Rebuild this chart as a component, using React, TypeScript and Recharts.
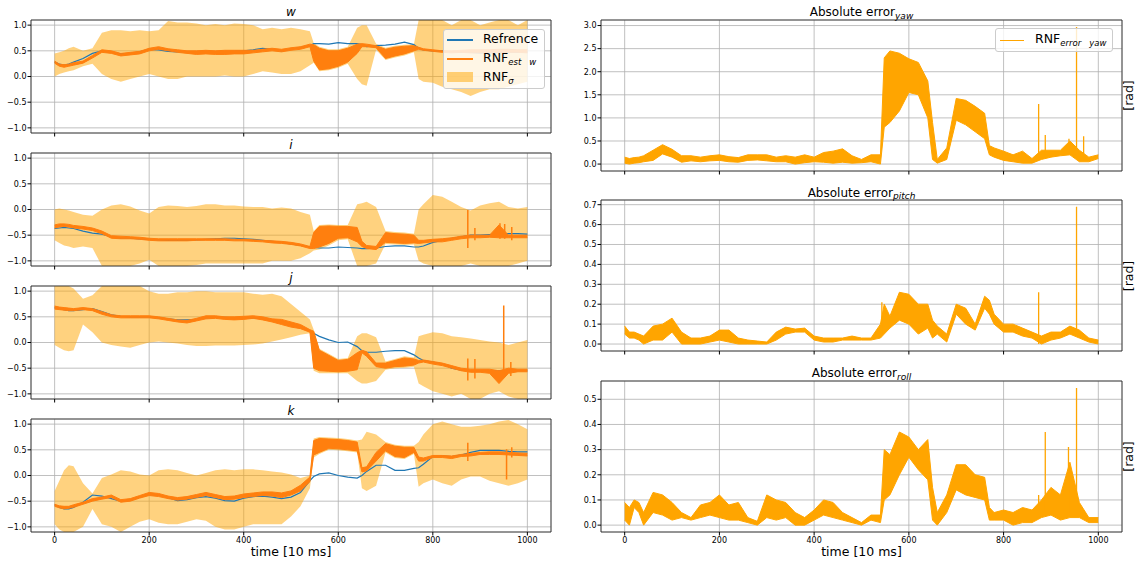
import React from 'react';
import { ComposedChart, Area, Line, XAxis, YAxis, CartesianGrid, ReferenceArea } from 'recharts';

const FONT = '"DejaVu Sans", sans-serif';

// time axis [10 ms]
const T = [
  0, 10, 20, 30, 40,
  60, 80, 100, 120, 140, 160, 180, 200, 220,
  240, 260, 280, 300, 320, 340, 360, 380, 400, 420, 440, 460, 480, 500, 520, 540,
  548, 560, 580, 600, 620, 640, 650, 660, 680, 700, 720, 740, 760, 770, 780,
  800, 820, 840, 860, 880, 900, 920, 940, 960, 980, 1000,
];

// ---- quaternion w ----
const wRef = [
  0.28, 0.24, 0.22, 0.24, 0.28,
  0.35, 0.45, 0.5, 0.47, 0.44, 0.45, 0.48, 0.53, 0.52,
  0.49, 0.48, 0.48, 0.47, 0.47, 0.48, 0.48, 0.49, 0.5, 0.52, 0.55, 0.53, 0.5, 0.53, 0.57, 0.6,
  0.64, 0.64, 0.63, 0.66, 0.64, 0.64, 0.62, 0.58, 0.6, 0.61, 0.63, 0.67, 0.62, 0.55, 0.52,
  0.5, 0.5, 0.48, 0.47, 0.47, 0.46, 0.46, 0.47, 0.47, 0.47, 0.48,
];
const wEstLo = [
  0.26, 0.2, 0.18, 0.2, 0.22,
  0.26, 0.36, 0.47, 0.45, 0.4, 0.42, 0.44, 0.5, 0.53,
  0.5, 0.47, 0.45, 0.43, 0.44, 0.43, 0.43, 0.44, 0.44, 0.46, 0.48, 0.5, 0.48, 0.51, 0.53, 0.58,
  0.3, 0.13, 0.15, 0.2, 0.28, 0.45, 0.58, 0.58, 0.56, 0.35, 0.4, 0.44, 0.5, 0.53, 0.51,
  0.49, 0.47, 0.46, 0.47, 0.46, 0.46, 0.47, 0.47, 0.47, 0.47, 0.46,
];
const wEstHi = [
  0.3, 0.24, 0.23, 0.24, 0.27,
  0.3, 0.41, 0.52, 0.5, 0.45, 0.47, 0.49, 0.55, 0.58,
  0.54, 0.52, 0.5, 0.5, 0.51, 0.5, 0.51, 0.51, 0.51, 0.51, 0.53, 0.55, 0.53, 0.56, 0.58, 0.63,
  0.62, 0.55, 0.5, 0.5, 0.55, 0.63, 0.64, 0.63, 0.6, 0.53, 0.57, 0.59, 0.6, 0.57, 0.54,
  0.52, 0.5, 0.5, 0.51, 0.52, 0.52, 0.52, 0.53, 0.53, 0.52, 0.52,
];
const wSigLo = [
  0.0, 0.05, 0.08, 0.1, 0.12,
  0.2, 0.25, 0.05, -0.05, -0.1, -0.05, 0.0, 0.05, 0.0,
  -0.05, -0.05, 0.0, 0.0, 0.0, 0.0, 0.02, 0.0, 0.0, 0.05, 0.1, 0.08, 0.05, 0.05, 0.1, 0.22,
  0.27, 0.1, 0.12, 0.17, 0.25, -0.05, -0.15, -0.18, 0.52, 0.32, 0.37, 0.41, 0.47, -0.05, -0.1,
  -0.12, -0.2, -0.25, -0.3, -0.38, -0.3, -0.25, -0.25, -0.2, -0.15, -0.1,
];
const wSigHi = [
  0.45, 0.47, 0.5, 0.55, 0.58,
  0.5, 0.55, 0.85, 0.9, 0.9, 0.88, 0.9, 0.88, 0.9,
  1.08, 1.05, 1.05, 1.03, 1.0, 1.02, 1.0, 1.03, 1.02, 1.0, 0.92, 0.95, 0.92, 0.95, 0.92, 0.88,
  0.65, 0.58, 0.53, 0.53, 0.58, 0.95, 1.0, 1.0, 0.64, 0.56, 0.6, 0.62, 0.63, 1.1, 1.1,
  1.1, 1.1, 1.0, 1.1, 1.1, 1.0, 1.05, 1.1, 1.1, 1.0, 1.1,
];

// ---- quaternion i ----
const iRef = [
  -0.37, -0.36, -0.35, -0.36, -0.37,
  -0.42, -0.46, -0.48, -0.53, -0.56, -0.56, -0.57, -0.58, -0.59,
  -0.6, -0.6, -0.6, -0.59, -0.58, -0.57, -0.56, -0.56, -0.57, -0.58, -0.6, -0.62, -0.64, -0.67, -0.7, -0.73,
  -0.74, -0.75, -0.75, -0.73, -0.74, -0.75, -0.76, -0.76, -0.75, -0.72, -0.71, -0.71, -0.73, -0.73, -0.71,
  -0.64, -0.6, -0.56, -0.53, -0.5, -0.5, -0.49, -0.48, -0.47, -0.47, -0.48,
];
const iEstLo = [
  -0.36, -0.34, -0.33, -0.34, -0.36,
  -0.38, -0.41, -0.47, -0.56, -0.57, -0.57, -0.58, -0.6, -0.61,
  -0.61, -0.61, -0.61, -0.6, -0.6, -0.6, -0.6, -0.61, -0.61, -0.62, -0.63, -0.65, -0.66, -0.68, -0.71, -0.76,
  -0.76, -0.73, -0.66, -0.56, -0.55, -0.63, -0.72, -0.76, -0.78, -0.64, -0.65, -0.66, -0.65, -0.66, -0.65,
  -0.63, -0.63, -0.6, -0.57, -0.55, -0.55, -0.54, -0.55, -0.55, -0.55, -0.55,
];
const iEstHi = [
  -0.3, -0.28, -0.28, -0.29, -0.31,
  -0.33, -0.36, -0.42, -0.51, -0.52, -0.53, -0.54, -0.56, -0.57,
  -0.57, -0.57, -0.57, -0.57, -0.57, -0.57, -0.57, -0.58, -0.58, -0.59, -0.6, -0.61, -0.62, -0.64, -0.67, -0.72,
  -0.45, -0.33, -0.32, -0.33, -0.33, -0.35, -0.62, -0.7, -0.72, -0.45, -0.47, -0.48, -0.5, -0.6, -0.6,
  -0.58, -0.57, -0.55, -0.52, -0.5, -0.5, -0.5, -0.3, -0.5, -0.5, -0.5,
];
const iSigLo = [
  -0.6, -0.65, -0.7, -0.72, -0.75,
  -0.72, -0.75, -1.1, -1.1, -1.1, -1.1, -1.05, -0.98, -1.1,
  -1.1, -1.1, -1.1, -1.08, -1.05, -1.05, -1.05, -1.05, -1.05, -1.05, -1.05, -1.0, -1.0, -1.0, -0.95, -0.85,
  -0.8, -0.78, -0.7, -0.6, -0.58, -1.1, -1.1, -1.1, -1.05, -0.67, -0.68, -0.69, -0.68, -1.0, -1.05,
  -1.1, -1.1, -1.1, -1.1, -1.05, -1.1, -1.1, -1.1, -1.1, -1.05, -1.0,
];
const iSigHi = [
  0.0, 0.02, 0.0, -0.02, -0.05,
  -0.1, -0.12, 0.0, 0.08, 0.1, 0.06, -0.02, -0.08, 0.05,
  0.08, 0.07, 0.05, 0.07, 0.1, 0.1, 0.08, 0.08, 0.06, 0.05, 0.05, 0.02, 0.04, 0.02, -0.05, -0.1,
  -0.42, -0.3, -0.29, -0.3, -0.3, 0.1, 0.12, 0.15, 0.05, -0.42, -0.44, -0.45, -0.47, 0.0, 0.1,
  0.28, 0.25, 0.15, 0.05, -0.02, 0.08, 0.12, 0.15, 0.05, 0.02, 0.05,
];
const iSpikeT = [874, 889, 942, 952, 967];
const iSpikeLo = [-0.75, -0.6, -0.57, -0.57, -0.6];
const iSpikeHi = [-0.01, -0.36, -0.27, -0.28, -0.34];

// ---- quaternion j ----
const jRef = [
  0.68, 0.66, 0.64, 0.62, 0.62,
  0.64, 0.66, 0.6, 0.54, 0.51, 0.5, 0.5, 0.5, 0.48,
  0.46, 0.44, 0.44, 0.45, 0.48, 0.49, 0.49, 0.48, 0.48, 0.48, 0.46, 0.43, 0.38, 0.35, 0.3, 0.22,
  0.18, 0.12, 0.05, 0.0, 0.01, -0.08, -0.16, -0.19, -0.19, -0.17, -0.16, -0.16, -0.24, -0.3, -0.35,
  -0.38, -0.42, -0.5, -0.54, -0.55, -0.55, -0.55, -0.55, -0.55, -0.55, -0.55,
];
const jEstLo = [
  0.65, 0.64, 0.63, 0.62, 0.62,
  0.64, 0.62, 0.55, 0.5, 0.48, 0.48, 0.48, 0.48, 0.46,
  0.43, 0.4, 0.38, 0.42, 0.46, 0.47, 0.45, 0.44, 0.45, 0.47, 0.44, 0.4, 0.35, 0.3, 0.27, 0.2,
  -0.5, -0.55, -0.56, -0.57, -0.56, -0.53, -0.2, -0.27, -0.47, -0.5, -0.47, -0.46, -0.44, -0.4, -0.38,
  -0.42, -0.45, -0.5, -0.55, -0.58, -0.58, -0.6, -0.8, -0.6, -0.57, -0.57,
];
const jEstHi = [
  0.71, 0.69, 0.68, 0.67, 0.66,
  0.68, 0.66, 0.6, 0.54, 0.52, 0.52, 0.52, 0.52, 0.5,
  0.47, 0.44, 0.43, 0.47, 0.52, 0.52, 0.5, 0.5, 0.51, 0.52, 0.5, 0.46, 0.45, 0.4, 0.35, 0.25,
  0.22, -0.15, -0.25, -0.35, -0.33, -0.2, -0.15, -0.18, -0.4, -0.4, -0.35, -0.3, -0.32, -0.35, -0.34,
  -0.37, -0.4, -0.45, -0.5, -0.52, -0.52, -0.52, -0.55, -0.5, -0.52, -0.52,
];
const jSigLo = [
  -0.05, -0.1, -0.15, -0.17, -0.15,
  0.35, 0.2, 0.0, -0.05, -0.08, -0.1, -0.05, 0.0, 0.02,
  0.0, -0.02, -0.05, -0.07, -0.07, -0.06, -0.06, -0.06, -0.05, -0.04, -0.02, 0.02, 0.06, 0.1, 0.15, 0.18,
  -0.55, -0.6, -0.6, -0.6, -0.6, -0.75, -0.8, -0.8, -0.75, -0.53, -0.5, -0.49, -0.47, -0.8, -0.85,
  -0.95, -1.0, -1.05, -1.0, -1.1, -1.1, -1.0, -0.95, -1.05, -1.1, -1.1,
];
const jSigHi = [
  1.1, 1.1, 1.1, 1.1, 1.05,
  0.85, 0.92, 1.1, 1.1, 1.1, 1.1, 1.1, 1.0, 0.95,
  0.95, 0.98, 0.98, 1.0, 1.0, 0.98, 0.98, 0.98, 0.98, 0.95, 0.93, 0.95, 0.9, 0.75, 0.6, 0.45,
  0.25, -0.12, -0.22, -0.32, -0.3, 0.12, 0.18, 0.18, 0.1, -0.37, -0.32, -0.27, -0.29, 0.12, 0.15,
  0.2, 0.18, 0.12, 0.1, 0.08, 0.05, 0.02, 0.0, -0.05, 0.0, 0.05,
];
const jSpikeT = [874, 889, 950, 965];
const jSpikeLo = [-0.74, -0.7, -0.65, -0.65];
const jSpikeHi = [-0.31, -0.32, 0.72, -0.38];

// ---- quaternion k ----
const kRef = [
  -0.57, -0.62, -0.65, -0.65, -0.62,
  -0.52, -0.38, -0.4, -0.45, -0.5, -0.48, -0.42, -0.37, -0.38,
  -0.43, -0.49, -0.47, -0.43, -0.41, -0.44, -0.49, -0.5, -0.44, -0.41, -0.4, -0.42, -0.45, -0.42, -0.33, -0.1,
  -0.02, 0.03, 0.05, 0.0, -0.03, -0.05, 0.0, 0.08, 0.2, 0.2, 0.1, 0.1, 0.14, 0.15, 0.22,
  0.37, 0.38, 0.37, 0.4, 0.45, 0.49, 0.49, 0.49, 0.47, 0.46, 0.46,
];
const kEstLo = [
  -0.6, -0.63, -0.65, -0.64, -0.62,
  -0.56, -0.5, -0.46, -0.43, -0.52, -0.5, -0.44, -0.39, -0.41,
  -0.45, -0.48, -0.46, -0.43, -0.39, -0.43, -0.47, -0.46, -0.43, -0.41, -0.39, -0.4, -0.43, -0.38, -0.3, -0.12,
  0.4, 0.45, 0.53, 0.52, 0.5, 0.48, 0.07, 0.09, 0.28, 0.48, 0.37, 0.35, 0.45, 0.28, 0.28,
  0.35, 0.35, 0.33, 0.37, 0.38, 0.41, 0.41, 0.41, 0.4, 0.39, 0.38,
];
const kEstHi = [
  -0.56, -0.59, -0.6, -0.6, -0.57,
  -0.52, -0.45, -0.42, -0.38, -0.47, -0.45, -0.39, -0.33, -0.35,
  -0.4, -0.43, -0.41, -0.37, -0.33, -0.37, -0.41, -0.4, -0.36, -0.34, -0.32, -0.32, -0.34, -0.3, -0.19, -0.03,
  0.68, 0.72, 0.71, 0.7, 0.68, 0.65, 0.15, 0.17, 0.45, 0.62, 0.57, 0.55, 0.55, 0.36, 0.34,
  0.39, 0.39, 0.38, 0.41, 0.43, 0.45, 0.46, 0.46, 0.45, 0.44, 0.43,
];
const kSigLo = [
  -0.95, -1.05, -1.1, -1.1, -1.1,
  -1.0, -0.65, -0.95, -1.0, -1.1, -1.0, -0.9, -0.85, -0.92,
  -0.95, -0.95, -0.9, -0.85, -0.88, -1.0, -1.05, -1.05, -1.0, -0.95, -0.95, -0.95, -0.95, -0.8, -0.6, -0.25,
  0.35, 0.42, 0.5, 0.49, 0.47, 0.45, -0.25, -0.3, -0.2, 0.45, 0.34, 0.32, 0.42, -0.22, -0.15,
  -0.08, -0.15, -0.2, -0.08, -0.02, -0.02, -0.1, -0.15, -0.2, -0.15, -0.08,
];
const kSigHi = [
  -0.3, -0.1, 0.1, 0.2, 0.18,
  -0.15, -0.35, -0.05, 0.02, 0.1, 0.08, 0.02, 0.0, 0.1,
  0.12, 0.1, 0.05, 0.0, 0.05, 0.1, 0.12, 0.1, 0.12, 0.12, 0.1, 0.08, 0.06, 0.02, -0.05, 0.0,
  0.72, 0.75, 0.74, 0.73, 0.71, 0.68, 0.7, 0.85, 0.8, 0.65, 0.6, 0.58, 0.58, 0.65, 0.8,
  1.0, 1.05, 1.0, 0.95, 0.95, 0.97, 1.0, 1.05, 1.08, 1.0, 0.9,
];
const kSpikeT = [874, 956, 967];
const kSpikeLo = [0.28, -0.08, 0.35];
const kSpikeHi = [0.64, 0.51, 0.55];

// ---- absolute errors [rad] ----
const yawLo = [
  0.02, 0.0, 0.02, 0.03, 0.05,
  0.08, 0.22, 0.15, 0.04, 0.07, 0.05, 0.07, 0.08, 0.05,
  0.04, 0.08, 0.09, 0.07, 0.05, 0.05, 0.0, 0.03, 0.05, 0.04, 0.02, 0.04, 0.02, 0.03, 0.05, 0.0,
  0.8, 0.9, 1.15, 1.55, 1.5, 1.0, 0.1, 0.02, 0.1, 0.95, 0.85, 0.7, 0.55, 0.2, 0.15,
  0.08, 0.05, 0.02, 0.02, 0.1, 0.15, 0.18, 0.2, 0.05, 0.05, 0.12,
];
const yawHi = [
  0.15, 0.12, 0.14, 0.15, 0.18,
  0.3, 0.42, 0.32, 0.18, 0.18, 0.15, 0.18, 0.2, 0.16,
  0.14, 0.2, 0.2, 0.2, 0.15, 0.18, 0.15, 0.2, 0.15, 0.25, 0.28, 0.33, 0.18, 0.1, 0.2, 0.2,
  2.3, 2.45, 2.4, 2.28, 2.2, 1.8, 0.9, 0.1, 0.35, 1.42, 1.38, 1.25, 1.1, 0.4, 0.35,
  0.28, 0.2, 0.28, 0.12, 0.3, 0.3, 0.3, 0.5, 0.3, 0.15, 0.2,
];
const yawSpikeT = [874, 888, 938, 954, 969];
const yawSpikeLo = [0.1, 0.15, 0.2, 0.2, 0.1];
const yawSpikeHi = [1.3, 0.63, 0.55, 2.97, 0.6];

const pitchLo = [
  0.05, 0.03, 0.03, 0.02, 0.0,
  0.02, 0.02, 0.06, 0.0, 0.0, 0.0, 0.01, 0.02, 0.01,
  0.0, 0.0, 0.0, 0.0, 0.02, 0.05, 0.06, 0.06, 0.02, 0.01, 0.01, 0.02, 0.02, 0.02, 0.02, 0.03,
  0.05, 0.08, 0.12, 0.1, 0.05, 0.08, 0.03, 0.05, 0.01, 0.15, 0.1, 0.07, 0.18, 0.15, 0.1,
  0.06, 0.06, 0.04, 0.03, 0.0, 0.02, 0.03, 0.05, 0.03, 0.01, 0.0,
];
const pitchHi = [
  0.09, 0.06, 0.06, 0.05, 0.04,
  0.09, 0.1, 0.13, 0.06, 0.03, 0.03, 0.04, 0.07, 0.07,
  0.03, 0.02, 0.015, 0.01, 0.06, 0.085, 0.075, 0.08, 0.04, 0.03, 0.03, 0.03, 0.04, 0.03, 0.03, 0.1,
  0.2, 0.14, 0.26, 0.25, 0.2, 0.2, 0.12, 0.09, 0.05, 0.2, 0.18, 0.1, 0.24, 0.22, 0.15,
  0.1, 0.1, 0.08, 0.06, 0.04, 0.06, 0.06, 0.09, 0.07, 0.03, 0.02,
];
const pitchSpikeT = [543, 874, 954];
const pitchSpikeLo = [0.05, 0.0, 0.05];
const pitchSpikeHi = [0.21, 0.26, 0.69];

const rollLo = [
  0.02, 0.0, 0.07, 0.05, 0.0,
  0.05, 0.04, 0.02, 0.03, 0.02, 0.03, 0.04, 0.03, 0.02,
  0.02, 0.01, 0.0, 0.03, 0.02, 0.03, 0.0, 0.0, 0.02, 0.04, 0.03, 0.02, 0.01, 0.0, 0.02, 0.01,
  0.1, 0.12, 0.2, 0.27, 0.22, 0.18, 0.02, 0.0, 0.05, 0.14, 0.12, 0.11, 0.1, 0.02, 0.02,
  0.02, 0.0, 0.01, 0.01, 0.03, 0.04, 0.02, 0.03, 0.03, 0.01, 0.01,
];
const rollHi = [
  0.09, 0.07, 0.1, 0.09, 0.05,
  0.13, 0.12, 0.09, 0.05, 0.03, 0.08, 0.09, 0.12, 0.08,
  0.09, 0.03, 0.015, 0.12, 0.1, 0.09, 0.05, 0.03, 0.06, 0.1, 0.09, 0.05, 0.03, 0.01, 0.04, 0.04,
  0.3, 0.28, 0.37, 0.35, 0.3, 0.34, 0.15, 0.05, 0.12, 0.24, 0.24, 0.2, 0.19, 0.07, 0.05,
  0.06, 0.05, 0.07, 0.06, 0.1, 0.15, 0.12, 0.25, 0.09, 0.03, 0.03,
];
const rollSpikeT = [874, 888, 937, 954];
const rollSpikeLo = [0.03, 0.05, 0.05, 0.05];
const rollSpikeHi = [0.12, 0.37, 0.31, 0.545];

const XT = [0, 200, 400, 600, 800, 1000];
const QT = [-1, -0.5, 0, 0.5, 1];
const fmtQ = (v: number) => v.toFixed(1).replace('-', '\u2212');
const fmt1 = (v: number) => v.toFixed(1);
const tickStyle = { fontSize: 8, fill: '#000', fontFamily: FONT };

function spikeRows(ts: number[], lo: number[], hi: number[]) {
  return ts.flatMap((t, i) => [{ t, v: lo[i] }, { t, v: hi[i] }, { t, v: null }]);
}

type QuatProps = {
  top: number;
  bottom?: boolean;
  refv: number[];
  estLo: number[];
  estHi: number[];
  sigLo: number[];
  sigHi: number[];
  spikes?: { t: number; v: number | null }[];
};

function QuatPanel({ top, bottom, refv, estLo, estHi, sigLo, sigHi, spikes }: QuatProps) {
  const rows = T.map((t, i) => ({
    t,
    ref: refv[i],
    est: [estLo[i], estHi[i]],
    sig: [sigLo[i], sigHi[i]],
  }));
  const xh = bottom ? 20 : 6;
  return (
    <div style={{ position: 'absolute', left: 0, top: top - 2 }}>
      <ComposedChart width={555} height={2 + 113 + xh} data={rows} margin={{ top: 2, right: 4, bottom: 0, left: 0 }}>
        <CartesianGrid stroke="#b0b0b0" strokeWidth={0.8} />
        <XAxis dataKey="t" type="number" domain={[-50, 1050]} ticks={XT} interval={0} allowDataOverflow
          height={xh} tickSize={3.5} tickMargin={2} axisLine={false} stroke="#000"
          tick={tickStyle} tickFormatter={bottom ? (v: number) => String(v) : () => ''} />
        <YAxis type="number" domain={[-1.1, 1.1]} ticks={QT} interval={0} allowDataOverflow width={31}
          tickSize={3.5} tickMargin={1} axisLine={false} stroke="#000" tick={tickStyle} tickFormatter={fmtQ} />
        <Area type="linear" dataKey="sig" stroke="none" fill="#ffa500" fillOpacity={0.5}
          isAnimationActive={false} dot={false} activeDot={false} />
        {/* reference drawn as an unfilled area so that it stays beneath the estimate */}
        <Area type="linear" dataKey="ref" stroke="#1f77b4" strokeWidth={1.2} fill="none"
          isAnimationActive={false} dot={false} activeDot={false} />
        <Area type="linear" dataKey="est" stroke="#ff7f0e" strokeWidth={1} fill="#ff7f0e" fillOpacity={1}
          isAnimationActive={false} dot={false} activeDot={false} />
        {spikes && (
          <Line type="linear" data={spikes} dataKey="v" stroke="#ff7f0e" strokeWidth={1.5}
            isAnimationActive={false} dot={false} activeDot={false} />
        )}
        <ReferenceArea x1={-50} x2={1050} y1={-1.1} y2={1.1} fill="none" stroke="#222" strokeWidth={0.8} />
      </ComposedChart>
    </div>
  );
}

type ErrProps = {
  top: number;
  bottom?: boolean;
  lo: number[];
  hi: number[];
  domain: [number, number];
  ticks: number[];
  spikes: { t: number; v: number | null }[];
};

function ErrPanel({ top, bottom, lo, hi, domain, ticks, spikes }: ErrProps) {
  const rows = T.map((t, i) => ({ t, err: [lo[i], hi[i]] }));
  const xh = bottom ? 20 : 6;
  return (
    <div style={{ position: 'absolute', left: 570, top: top - 2 }}>
      <ComposedChart width={556} height={2 + 151 + xh} data={rows} margin={{ top: 2, right: 4, bottom: 0, left: 0 }}>
        <CartesianGrid stroke="#b0b0b0" strokeWidth={0.8} />
        <XAxis dataKey="t" type="number" domain={[-50, 1050]} ticks={XT} interval={0} allowDataOverflow
          height={xh} tickSize={3.5} tickMargin={2} axisLine={false} stroke="#000"
          tick={tickStyle} tickFormatter={bottom ? (v: number) => String(v) : () => ''} />
        <YAxis type="number" domain={domain} ticks={ticks} interval={0} allowDataOverflow width={31}
          tickSize={3.5} tickMargin={1} axisLine={false} stroke="#000" tick={tickStyle} tickFormatter={fmt1} />
        <Area type="linear" dataKey="err" stroke="#ffa500" strokeWidth={1} fill="#ffa500" fillOpacity={1}
          isAnimationActive={false} dot={false} activeDot={false} />
        <Line type="linear" data={spikes} dataKey="v" stroke="#ffa500" strokeWidth={1.3}
          isAnimationActive={false} dot={false} activeDot={false} />
        <ReferenceArea x1={-50} x2={1050} y1={domain[0]} y2={domain[1]} fill="none" stroke="#222" strokeWidth={0.8} />
      </ComposedChart>
    </div>
  );
}

export default function App() {
  return (
    <div style={{ position: 'absolute', left: 0, top: 0, width: 1142, height: 568, background: '#fff', fontFamily: FONT }}>
      <QuatPanel top={20} refv={wRef} estLo={wEstLo} estHi={wEstHi} sigLo={wSigLo} sigHi={wSigHi} />
      <QuatPanel top={153} refv={iRef} estLo={iEstLo} estHi={iEstHi} sigLo={iSigLo} sigHi={iSigHi}
        spikes={spikeRows(iSpikeT, iSpikeLo, iSpikeHi)} />
      <QuatPanel top={286} refv={jRef} estLo={jEstLo} estHi={jEstHi} sigLo={jSigLo} sigHi={jSigHi}
        spikes={spikeRows(jSpikeT, jSpikeLo, jSpikeHi)} />
      <QuatPanel top={419} bottom refv={kRef} estLo={kEstLo} estHi={kEstHi} sigLo={kSigLo} sigHi={kSigHi}
        spikes={spikeRows(kSpikeT, kSpikeLo, kSpikeHi)} />

      <ErrPanel top={20} lo={yawLo} hi={yawHi} domain={[-0.15, 3.12]}
        ticks={[0, 0.5, 1, 1.5, 2, 2.5, 3]} spikes={spikeRows(yawSpikeT, yawSpikeLo, yawSpikeHi)} />
      <ErrPanel top={200} lo={pitchLo} hi={pitchHi} domain={[-0.035, 0.7235]}
        ticks={[0, 0.1, 0.2, 0.3, 0.4, 0.5, 0.6, 0.7]} spikes={spikeRows(pitchSpikeT, pitchSpikeLo, pitchSpikeHi)} />
      <ErrPanel top={381} bottom lo={rollLo} hi={rollHi} domain={[-0.0273, 0.5727]}
        ticks={[0, 0.1, 0.2, 0.3, 0.4, 0.5]} spikes={spikeRows(rollSpikeT, rollSpikeLo, rollSpikeHi)} />

      {/* titles and axis labels */}
      <svg width={1142} height={568} style={{ position: 'absolute', left: 0, top: 0, pointerEvents: 'none' }} fontFamily={FONT}>
        <text x={291} y={15.5} fontSize={12} fontStyle="italic" textAnchor="middle">w</text>
        <text x={291} y={148.5} fontSize={12} fontStyle="italic" textAnchor="middle">i</text>
        <text x={291} y={281.5} fontSize={12} fontStyle="italic" textAnchor="middle">j</text>
        <text x={291} y={414.5} fontSize={12} fontStyle="italic" textAnchor="middle">k</text>
        <text x={861.5} y={16} fontSize={12} textAnchor="middle">
          Absolute error<tspan fontSize={9} fontStyle="italic" dy={2.5}>yaw</tspan>
        </text>
        <text x={861.5} y={196.5} fontSize={12} textAnchor="middle">
          Absolute error<tspan fontSize={9} fontStyle="italic" dy={2.5}>pitch</tspan>
        </text>
        <text x={861.5} y={377} fontSize={12} textAnchor="middle">
          Absolute error<tspan fontSize={9} fontStyle="italic" dy={2.5}>roll</tspan>
        </text>
        <text x={291} y={556} fontSize={12.5} textAnchor="middle">time [10 ms]</text>
        <text x={861.5} y={556} fontSize={12.5} textAnchor="middle">time [10 ms]</text>
        <text transform="translate(1133, 95.5) rotate(-90)" fontSize={12.5} textAnchor="middle">[rad]</text>
        <text transform="translate(1133, 276) rotate(-90)" fontSize={12.5} textAnchor="middle">[rad]</text>
        <text transform="translate(1133, 456.5) rotate(-90)" fontSize={12.5} textAnchor="middle">[rad]</text>
      </svg>

      {/* legend of the w panel */}
      <div style={{ position: 'absolute', left: 443, top: 29, width: 102, height: 60, boxSizing: 'border-box',
        background: 'rgba(255,255,255,0.8)', border: '1px solid #cccccc', borderRadius: 3, fontSize: 12.5, lineHeight: '16px' }}>
        <div style={{ position: 'absolute', left: 3, top: 9, width: 26, height: 1.5, background: '#1f77b4' }} />
        <div style={{ position: 'absolute', left: 39, top: 1, whiteSpace: 'nowrap' }}>Refrence</div>
        <div style={{ position: 'absolute', left: 3, top: 28, width: 26, height: 1.5, background: '#ff7f0e' }} />
        <div style={{ position: 'absolute', left: 39, top: 20, whiteSpace: 'nowrap' }}>
          RNF<sub style={{ fontSize: 8.5, fontStyle: 'italic', verticalAlign: '-3px' }}>est&nbsp;&nbsp;&nbsp;w</sub>
        </div>
        <div style={{ position: 'absolute', left: 3, top: 42, width: 26, height: 10, background: 'rgba(255,165,0,0.5)' }} />
        <div style={{ position: 'absolute', left: 39, top: 39, whiteSpace: 'nowrap' }}>
          RNF<sub style={{ fontSize: 8.5, fontStyle: 'italic', verticalAlign: '-3px' }}>σ</sub>
        </div>
      </div>

      {/* legend of the yaw panel */}
      <div style={{ position: 'absolute', left: 995, top: 28, width: 118, height: 24, boxSizing: 'border-box',
        background: 'rgba(255,255,255,0.8)', border: '1px solid #cccccc', borderRadius: 3, fontSize: 12.5, lineHeight: '16px' }}>
        <div style={{ position: 'absolute', left: 4, top: 10.5, width: 24, height: 1.5, background: '#ffa500' }} />
        <div style={{ position: 'absolute', left: 39, top: 2, whiteSpace: 'nowrap' }}>
          RNF<sub style={{ fontSize: 8.5, fontStyle: 'italic', verticalAlign: '-3px' }}>error&nbsp;&nbsp;&nbsp;yaw</sub>
        </div>
      </div>
    </div>
  );
}
